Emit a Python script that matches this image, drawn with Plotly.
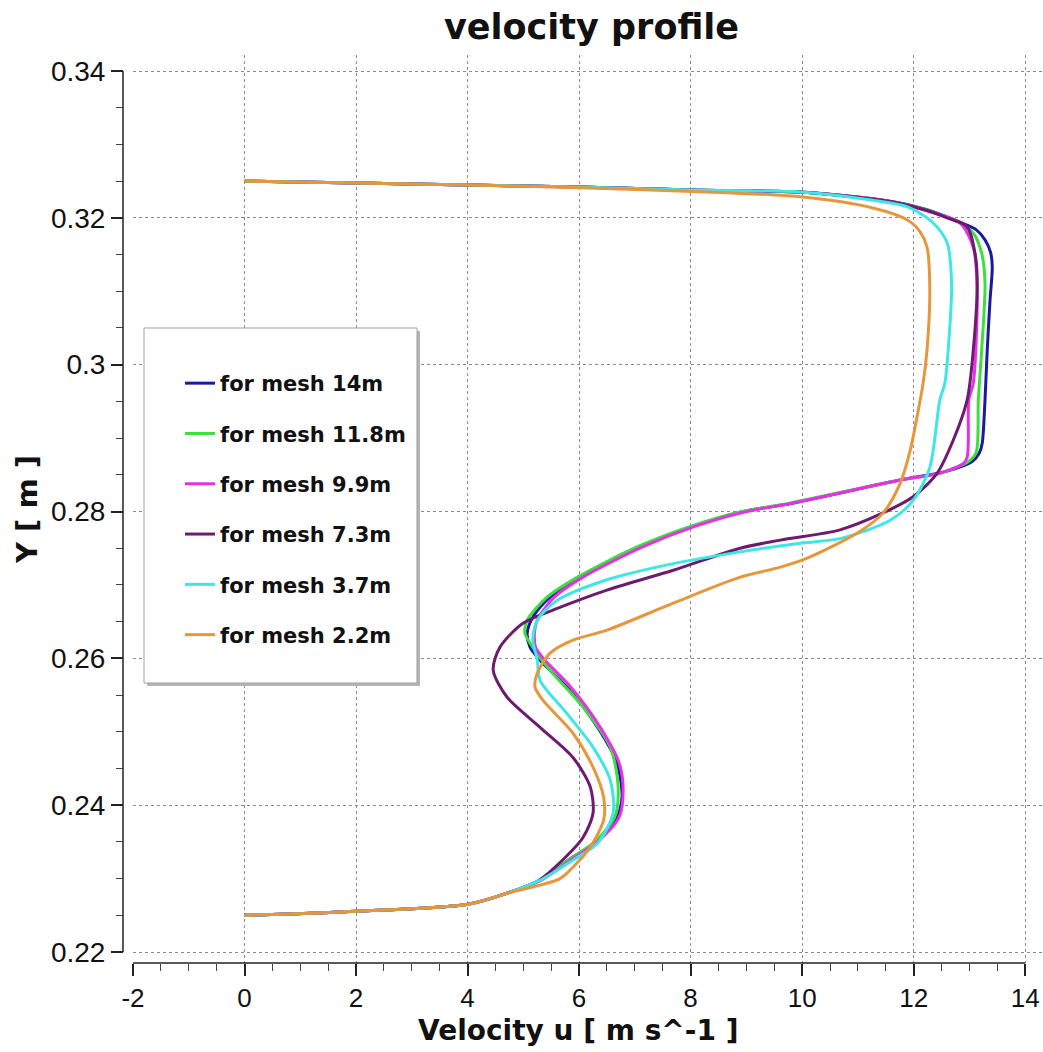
import plotly.graph_objects as go

# ---------------- data ----------------
names = ["for mesh 14m", "for mesh 11.8m", "for mesh 9.9m",
         "for mesh 7.3m", "for mesh 3.7m", "for mesh 2.2m"]
colors = ["#1a1aa0", "#3ce03c", "#e632e6", "#6e1a6e", "#3ee6e6", "#e8963c"]

y_14 = [0.2250, 0.22556, 0.22651, 0.22801, 0.22978, 0.2325, 0.2350, 0.23836, 0.24109,
        0.24572, 0.25063, 0.25608, 0.25975, 0.26153, 0.26343, 0.26561, 0.26834, 0.27106,
        0.27515, 0.27787, 0.27992, 0.2811, 0.28428, 0.2855, 0.2868, 0.2880, 0.2893,
        0.2952, 0.3020, 0.3088, 0.3133, 0.3153, 0.3170, 0.3184, 0.3194, 0.3211, 0.3222,
        0.3228, 0.3235, 0.3238, 0.3242, 0.32447, 0.32474, 0.3250]
u_14 = [0.0, 2.02, 4.01, 4.71, 5.30, 5.80, 6.30, 6.68, 6.77,
        6.68, 6.33, 5.78, 5.30, 5.12, 5.07, 5.17, 5.48, 6.02,
        7.09, 7.99, 8.89, 9.80, 11.76, 12.60, 13.05, 13.18, 13.23,
        13.28, 13.32, 13.37, 13.41, 13.38, 13.28, 13.12, 12.83, 12.24, 11.63,
        11.04, 10.02, 8.04, 6.02, 4.01, 2.02, 0.0]

y_118 = [0.2250, 0.22556, 0.22651, 0.22801, 0.22978, 0.2325, 0.2350, 0.2384, 0.2425,
         0.2479, 0.2534, 0.2588, 0.2621, 0.2634, 0.2652, 0.2683, 0.2711, 0.2752,
         0.2779, 0.2799, 0.2811, 0.2843, 0.2852, 0.2868, 0.2880, 0.2952, 0.3020,
         0.3111, 0.3152, 0.3179, 0.3193, 0.3211, 0.3222, 0.3228, 0.3235, 0.3238,
         0.3242, 0.32447, 0.32474, 0.3250]
u_118 = [0.0, 2.02, 4.01, 4.71, 5.30, 5.80, 6.28, 6.64, 6.70,
         6.56, 6.07, 5.43, 5.12, 5.03, 5.07, 5.42, 5.98, 7.05,
         7.97, 8.87, 9.75, 11.76, 12.47, 12.98, 13.12, 13.16, 13.22,
         13.28, 13.22, 13.07, 12.83, 12.22, 11.60, 11.02, 10.02, 8.04,
         6.02, 4.01, 2.02, 0.0]

y_99 = [0.2250, 0.22556, 0.22651, 0.22801, 0.22978, 0.2325, 0.2350, 0.2384, 0.2420,
        0.2457, 0.2506, 0.2561, 0.2598, 0.2615, 0.2634, 0.2652, 0.2683, 0.2711,
        0.2752, 0.2779, 0.2799, 0.2811, 0.2843, 0.2852, 0.2866, 0.2874, 0.2893,
        0.2952, 0.2975, 0.3102, 0.3160, 0.3193, 0.3210, 0.3222, 0.3228,
        0.3235, 0.3238, 0.3242, 0.32447, 0.32474, 0.3250]
u_99 = [0.0, 2.02, 4.01, 4.71, 5.32, 5.85, 6.33, 6.72, 6.79,
        6.72, 6.38, 5.85, 5.38, 5.22, 5.20, 5.25, 5.55, 6.08,
        7.15, 8.05, 8.95, 9.80, 11.76, 12.47, 12.90, 12.96, 12.98,
        12.99, 13.07, 13.14, 13.07, 12.83, 12.22, 11.60, 11.02,
        10.02, 8.04, 6.02, 4.01, 2.02, 0.0]

y_73 = [0.2250, 0.22556, 0.22651, 0.22801, 0.22978, 0.2325, 0.2356, 0.2389, 0.2425,
        0.2465, 0.2506, 0.2547, 0.2584, 0.2615, 0.2648, 0.2668, 0.2693, 0.2720,
        0.2750, 0.2761, 0.2775, 0.2798, 0.2820, 0.2852, 0.2897, 0.2952, 0.3020,
        0.3115, 0.3152, 0.3188, 0.3200, 0.3211, 0.3222, 0.3228, 0.3235, 0.3238,
        0.3242, 0.32447, 0.32474, 0.3250]
u_73 = [0.0, 2.02, 4.01, 4.71, 5.28, 5.70, 6.07, 6.25, 6.20,
        5.89, 5.30, 4.71, 4.46, 4.58, 5.00, 5.61, 6.50, 7.69,
        8.89, 9.61, 10.68, 11.45, 11.99, 12.42, 12.71, 12.96, 13.07,
        13.14, 13.10, 12.96, 12.60, 12.20, 11.60, 11.00, 10.02, 8.04,
        6.02, 4.01, 2.02, 0.0]

y_37 = [0.2250, 0.22556, 0.22651, 0.22801, 0.22978, 0.2325, 0.2348, 0.2389, 0.2434,
        0.2479, 0.2525, 0.2570, 0.2598, 0.2625, 0.2652, 0.2679, 0.2707, 0.2729,
        0.2745, 0.2757, 0.2763, 0.2788, 0.2815, 0.2860, 0.2952, 0.2975, 0.3020,
        0.3111, 0.3166, 0.3193, 0.3215, 0.3224, 0.3235, 0.3238, 0.3242,
        0.32447, 0.32474, 0.3250]
u_37 = [0.0, 2.02, 4.01, 4.71, 5.30, 5.89, 6.33, 6.61, 6.56,
        6.25, 5.78, 5.30, 5.25, 5.17, 5.25, 5.61, 6.50, 7.69,
        8.89, 10.00, 10.68, 11.58, 11.99, 12.29, 12.47, 12.56, 12.62,
        12.68, 12.60, 12.35, 11.89, 11.27, 10.02, 8.04, 6.02,
        4.01, 2.02, 0.0]

y_22 = [0.2250, 0.22556, 0.22651, 0.22801, 0.2300, 0.23155, 0.23428, 0.23796, 0.24109,
        0.24518, 0.24981, 0.2543, 0.25608, 0.25798, 0.26071, 0.26248, 0.26384, 0.26752,
        0.27106, 0.27242, 0.27365, 0.27706, 0.27978, 0.28387, 0.28836, 0.29286, 0.29749,
        0.30199, 0.31016, 0.31602, 0.31807, 0.3197, 0.32134, 0.32283, 0.3236,
        0.3241, 0.32447, 0.32474, 0.3250]
u_22 = [0.0, 2.02, 4.01, 4.71, 5.66, 5.89, 6.20, 6.44, 6.44,
        6.25, 5.89, 5.35, 5.21, 5.25, 5.48, 5.89, 6.50, 7.69,
        8.89, 9.61, 10.09, 10.99, 11.45, 11.76, 11.94, 12.06, 12.17,
        12.24, 12.29, 12.24, 12.12, 11.89, 11.27, 10.02, 8.04,
        6.02, 4.01, 2.02, 0.0]

series_u = [u_14, u_118, u_99, u_73, u_37, u_22]
series_y = [y_14, y_118, y_99, y_73, y_37, y_22]

x_tickvals = [-2, 0, 2, 4, 6, 8, 10, 12, 14]
x_ticktext = ["-2", "0", "2", "4", "6", "8", "10", "12", "14"]
y_tickvals = [0.22, 0.24, 0.26, 0.28, 0.30, 0.32, 0.34]
y_ticktext = ["0.22", "0.24", "0.26", "0.28", "0.3", "0.32", "0.34"]

title_text = "velocity profile"
x_title = "Velocity u [ m s^-1 ]"
y_title = "Y [ m ]"

# ---------------- layout geometry ----------------
W, H = 1043, 1052
def px_x(p):
    return p / W
def px_y(p):
    return (H - p) / H

fig = go.Figure()
for name, col, u, y in zip(names, colors, series_u, series_y):
    fig.add_trace(go.Scatter(
        x=u, y=y, mode="lines", name=name, legendgroup=name,
        line=dict(color=col, width=3, shape="spline", smoothing=0.8),
    ))

grid = dict(showgrid=True, gridcolor="#8a8a8a", griddash="dot", gridwidth=1,
            zeroline=False, showline=False, automargin=False)

fig.update_layout(
    width=W, height=H, autosize=False,
    margin=dict(l=0, r=0, t=0, b=0, pad=0),
    paper_bgcolor="white", plot_bgcolor="white",
    showlegend=True,
    xaxis=dict(
        domain=[px_x(133), 1.0], range=[-2, 14.32], anchor="y",
        tickmode="array", tickvals=x_tickvals, ticktext=x_ticktext,
        ticks="outside", ticklen=12, tickwidth=1.5, tickcolor="#222",
        tickfont=dict(family="Liberation Sans", size=26, color="#111"),
        minor=dict(ticks="outside", ticklen=7, tickwidth=1, tickcolor="#444",
                   tickmode="linear", tick0=-2, dtick=0.5, showgrid=False),
        **grid,
    ),
    yaxis=dict(
        domain=[px_y(963), px_y(55)], range=[0.22 - 11 / 7340, 0.34 + 16 / 7340],
        anchor="free", position=px_x(123),
        tickmode="array", tickvals=y_tickvals, ticktext=y_ticktext,
        ticks="outside", ticklen=12, tickwidth=1.5, tickcolor="#222",
        tickfont=dict(family="Liberation Sans", size=28, color="#111"),
        minor=dict(ticks="outside", ticklen=7, tickwidth=1, tickcolor="#444",
                   tickmode="linear", tick0=0.22, dtick=0.005, showgrid=False),
        **grid,
    ),
    legend=dict(
        x=px_x(180), y=px_y(363), xanchor="left", yanchor="top",
        bgcolor="rgba(0,0,0,0)", borderwidth=0,
        font=dict(family="DejaVu Sans", size=21, color="#111", weight="bold"),
        tracegroupgap=20,
    ),
)

# axis lines (span only the tick range), legend box with shadow
fig.add_shape(type="line", xref="paper", yref="y", x0=px_x(123), x1=px_x(123),
              y0=0.22, y1=0.34, line=dict(color="#222", width=1.5))
fig.add_shape(type="line", xref="x", yref="paper", x0=-2, x1=14,
              y0=px_y(963), y1=px_y(963), line=dict(color="#222", width=1.5))
fig.add_shape(type="rect", xref="paper", yref="paper", layer="above",
              x0=px_x(147), x1=px_x(420), y0=px_y(686), y1=px_y(331),
              fillcolor="#b4b4b4", line=dict(width=0))
fig.add_shape(type="rect", xref="paper", yref="paper", layer="above",
              x0=px_x(144), x1=px_x(417), y0=px_y(683), y1=px_y(328),
              fillcolor="white", line=dict(color="#a0a0a0", width=1))

fig.add_annotation(text=title_text, xref="paper", yref="paper",
                   x=px_x(591), y=px_y(27), xanchor="center", yanchor="middle",
                   showarrow=False,
                   font=dict(family="DejaVu Sans", size=35, color="#111", weight="bold"))
fig.add_annotation(text=x_title, xref="paper", yref="paper",
                   x=px_x(578), y=px_y(1030), xanchor="center", yanchor="middle",
                   showarrow=False,
                   font=dict(family="DejaVu Sans", size=28, color="#111", weight="bold"))
fig.add_annotation(text=y_title, xref="paper", yref="paper", textangle=-90,
                   x=px_x(27), y=px_y(510), xanchor="center", yanchor="middle",
                   showarrow=False,
                   font=dict(family="DejaVu Sans", size=29, color="#111", weight="bold"))

fig.write_html("out.html")
